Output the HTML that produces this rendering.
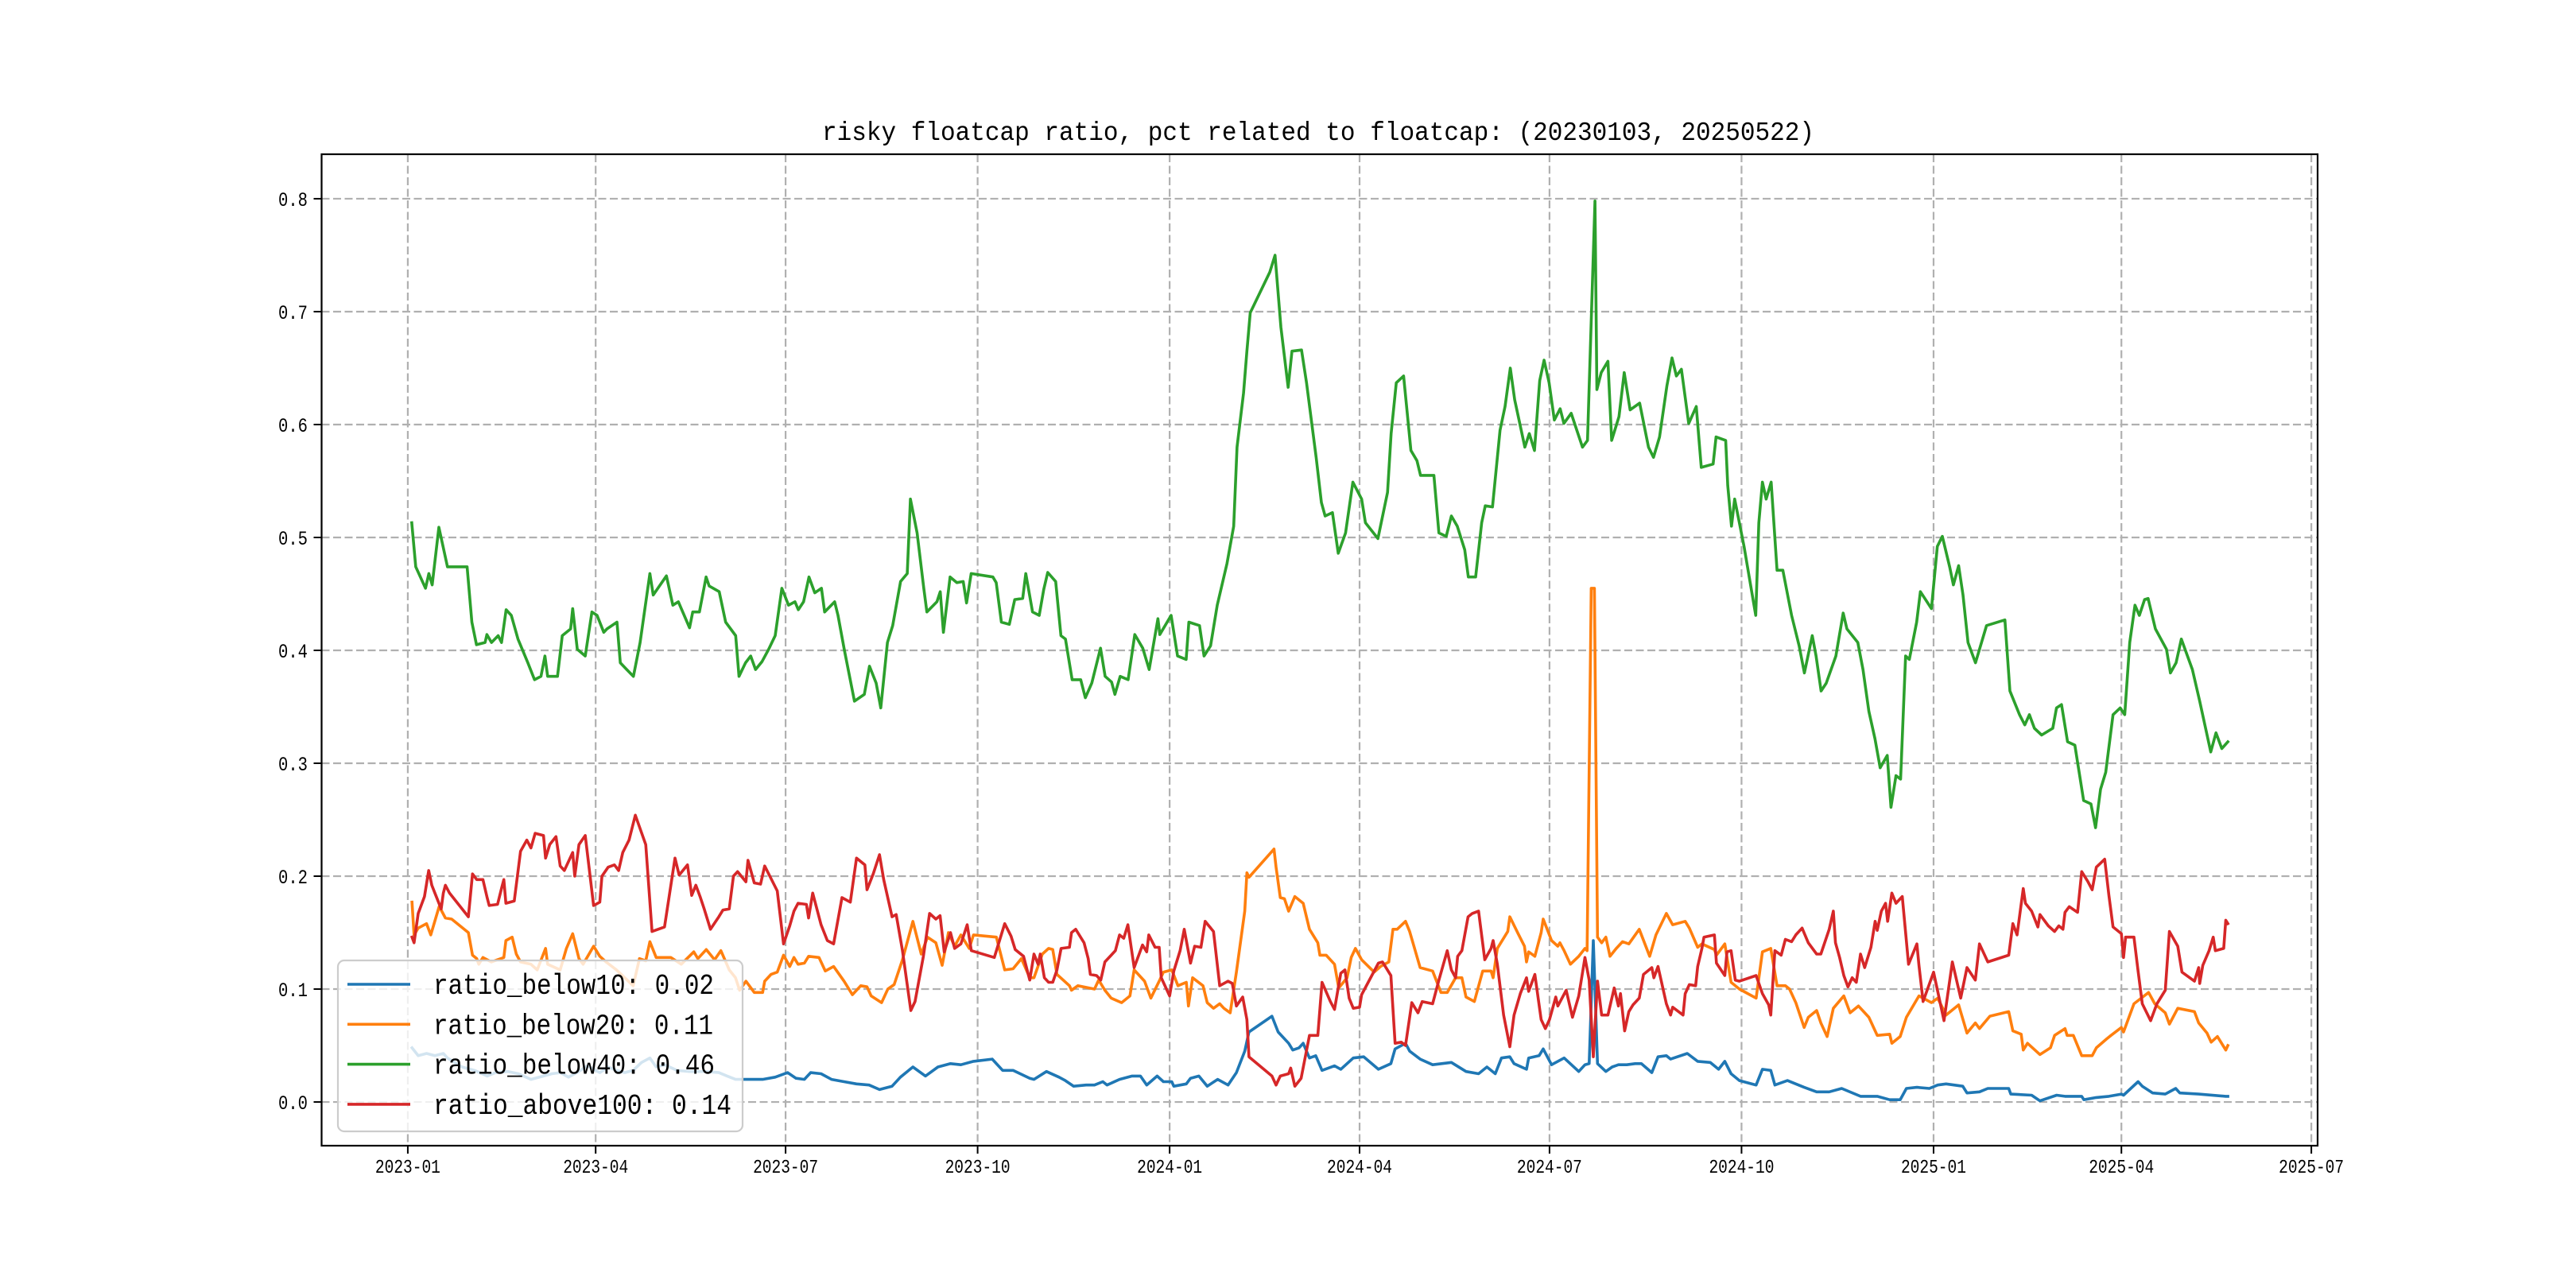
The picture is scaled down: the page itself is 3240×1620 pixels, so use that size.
<!DOCTYPE html>
<html><head><meta charset="utf-8"><style>
html,body{margin:0;padding:0;background:#fff;}
svg{display:block;}
text{font-family:"Liberation Mono","WenQuanYi Zen Hei",monospace;fill:#000;}
</style></head><body>
<svg id="chart" width="3240" height="1620" viewBox="0 0 3240 1620" xmlns="http://www.w3.org/2000/svg">
<rect x="0" y="0" width="3240" height="1620" fill="#fff"/>
<g id="grid"></g>
<g id="series"></g>
<rect x="404.5" y="194" width="2510.5" height="1247" fill="none" stroke="#000" stroke-width="2.2"/>
<g id="ticks"></g>
<text x="1658" y="176" font-size="33" text-anchor="middle" textLength="1248" lengthAdjust="spacingAndGlyphs">risky floatcap ratio, pct related to floatcap: (20230103, 20250522)</text>
<g id="legend"></g>
</svg>
<script>
// ---- data (day offset from 2023-01-01, value) ----
const xTickDays = [0,90,181,273,365,456,547,639,731,821,912];
const xTickLabels = ["2023-01","2023-04","2023-07","2023-10","2024-01","2024-04","2024-07","2024-10","2025-01","2025-04","2025-07"];
const yTickVals = [0,0.1,0.2,0.3,0.4,0.5,0.6,0.7,0.8];
const yTickLabels = ["0.0","0.1","0.2","0.3","0.4","0.5","0.6","0.7","0.8"];
const seriesNames = ["ratio_below10: 0.02","ratio_below20: 0.11","ratio_below40: 0.46","ratio_above100: 0.14"];

const blueDays = [2,5,9,13,17,19,26,32,38,42,48,53,59,65,69,73,77,81,86,92,96,100,104,108,112,116,119,123,129,135,143,149,153,157,162,170,176,182,186,190,193,198,203,209,215,221,226,230,232,236,242,248,254,260,265,271,280,285,290,298,300,306,312,315,319,325,329,333,335,341,347,351,354,359,362,366,367,373,375,379,383,388,393,397,401,403,414,417,422,424,427,429,432,435,438,444,447,453,458,465,471,473,478,480,485,491,500,507,513,517,521,524,528,530,536,537,542,544,548,554,561,564,566,568,570,574,577,580,584,588,591,596,599,603,605,613,618,624,628,631,634,638,646,649,653,655,661,669,675,681,687,696,704,710,715,718,723,729,733,737,745,747,753,757,767,768,778,782,790,794,802,803,809,815,821,822,829,831,836,842,847,849,858,871,872];
const blueVals = [.048,.041,.043,.041,.043,.039,.031,.028,.023,.026,.027,.025,.02,.023,.025,.026,.022,.026,.032,.026,.031,.028,.026,.028,.035,.039,.031,.033,.028,.027,.027,.026,.023,.02,.02,.02,.022,.026,.021,.02,.026,.025,.02,.018,.016,.015,.011,.013,.014,.022,.031,.023,.031,.034,.033,.036,.038,.028,.028,.021,.02,.027,.022,.019,.014,.015,.015,.018,.015,.02,.023,.023,.015,.023,.018,.018,.014,.016,.021,.023,.014,.02,.015,.026,.045,.062,.076,.062,.052,.046,.048,.052,.039,.041,.028,.032,.029,.039,.04,.029,.034,.047,.052,.045,.038,.033,.035,.027,.025,.031,.025,.039,.04,.034,.029,.039,.041,.047,.033,.039,.027,.033,.034,.143,.034,.027,.031,.033,.033,.034,.034,.026,.04,.041,.038,.043,.036,.035,.029,.036,.025,.019,.015,.029,.028,.015,.019,.013,.009,.009,.012,.005,.005,.002,.002,.012,.013,.012,.015,.016,.014,.008,.009,.012,.012,.007,.006,.001,.006,.005,.005,.002,.004,.005,.007,.006,.018,.014,.008,.007,.012,.008,.007,.005,.005];

const orangeDays = [2,3,5,9,11,15,16,18,21,29,31,33,34,36,40,46,47,50,52,54,59,62,66,67,73,76,79,82,84,89,92,95,100,108,111,114,116,119,123,126,131,137,139,143,147,150,154,157,159,162,166,170,171,174,177,180,183,185,187,190,192,197,200,204,209,213,217,220,222,227,230,233,237,242,246,249,253,256,259,262,265,269,271,282,286,290,294,298,300,304,307,309,311,317,318,321,329,331,334,337,342,346,348,353,356,360,362,366,369,373,374,376,381,383,386,389,391,394,397,401,402,403,415,416,418,420,422,425,429,432,436,437,440,444,446,450,452,454,457,463,466,470,472,474,478,480,485,491,495,498,502,505,507,511,515,519,520,522,527,528,532,535,536,537,540,543,544,548,551,552,554,557,561,564,565,567,568.5,570,572,574,576,579,582,585,590,595,598,603,606,612,614,618,620,626,627,631,634,638,646,649,653,656,660,662,665,669,671,675,677,680,683,688,691,695,700,704,710,711,715,718,724,730,733,737,743,747,751,753,758,767,769,773,774,776,782,787,789,794,795,798,802,807,809,814,816,821,822,827,834,837,842,844,848,856,858,862,864,867,871,872];
const orangeVals = [.177,.148,.154,.158,.148,.173,.17,.163,.162,.15,.13,.127,.122,.128,.124,.128,.143,.146,.131,.124,.122,.117,.136,.122,.117,.136,.149,.127,.122,.138,.129,.124,.117,.103,.127,.125,.142,.128,.128,.128,.122,.133,.127,.135,.126,.134,.117,.11,.099,.107,.097,.097,.107,.113,.115,.13,.12,.128,.122,.123,.129,.128,.116,.12,.107,.095,.103,.102,.094,.088,.1,.104,.126,.16,.131,.146,.141,.121,.15,.138,.148,.136,.148,.146,.117,.118,.127,.11,.11,.131,.136,.135,.113,.103,.099,.103,.1,.108,.099,.092,.088,.094,.117,.107,.092,.107,.115,.117,.103,.106,.085,.11,.103,.088,.083,.087,.083,.079,.115,.169,.203,.199,.224,.208,.181,.18,.169,.182,.176,.153,.141,.13,.13,.122,.101,.11,.128,.136,.126,.115,.12,.124,.153,.153,.16,.151,.119,.116,.097,.097,.11,.11,.093,.089,.116,.116,.11,.136,.151,.164,.149,.138,.124,.133,.129,.15,.162,.143,.138,.141,.134,.122,.129,.136,.134,.455,.455,.146,.141,.146,.129,.136,.142,.14,.153,.129,.148,.167,.157,.16,.154,.137,.14,.135,.13,.14,.106,.1,.092,.133,.136,.103,.103,.1,.088,.066,.075,.081,.07,.058,.083,.094,.079,.085,.075,.059,.06,.052,.058,.075,.094,.088,.092,.077,.086,.061,.07,.065,.076,.08,.063,.06,.046,.052,.042,.048,.059,.065,.059,.059,.041,.041,.048,.056,.059,.066,.062,.087,.097,.087,.079,.069,.083,.08,.07,.061,.053,.058,.046,.05];

const greenDays = [1.9,3.8,8.5,10.1,11.7,14.9,19,28.4,30.7,32.9,37,37.9,40.1,43.3,44.9,47.1,49.6,52.8,57.5,60.7,63.8,65.7,67,71.7,74,78,79,81.2,85,88.2,90.7,93.9,95.4,100.2,101.8,104.9,108.1,111.3,116,117.6,123.9,127,129.6,135,136.5,139.7,142.9,144.4,149.2,152.3,157.1,158.7,161.8,164.3,166.6,169.7,172.9,176,179.2,182.4,185.5,187.1,189.6,192.2,195,198.2,199.7,204.5,206.1,209.2,214,218.7,221.2,224.4,226.6,229.8,232.3,236.1,239.3,240.8,244,247.2,248.7,253.5,255.1,256.6,259.8,263,266.1,267.7,269.9,280.3,281.9,284.4,288.2,290.8,294.6,296.1,299.3,302.5,304.7,306.6,310.4,312.9,315.1,318.3,322.4,324.6,327.7,331.9,334.1,337.2,338.8,341.3,345.1,348.3,352.1,355.2,359.4,360.3,365.7,368.8,372.9,374.2,379.3,381.5,384.6,387.8,392.5,395.7,397.3,400.4,402,403.6,413,415.5,418.3,421.8,423.6,428.2,430.6,435.2,437.7,439.5,443,445.8,449.3,452.8,457,458.8,464.8,469.4,471.1,473.6,477.1,480.6,483.5,485.2,491.6,494,497.5,500,502.8,506.4,508.1,511.6,514.5,516.2,519.7,523.3,525.7,528.2,530.3,535.2,537.3,539.8,542.3,544.4,546.8,549.3,552.1,553.9,557.4,559.2,562.8,565.2,567.3,568.8,569.7,571.8,575,576.8,580.3,582.8,585.6,590.2,594.4,596.8,599.7,603.2,605.7,607.8,610.2,613.7,617.3,619.7,625.4,626.8,631.4,632.4,634.2,635.7,640.2,645.8,647.3,649,650.8,653.2,656,658.8,663,666.6,669.1,672.9,674.7,677.1,679.6,684.2,687.7,689.5,694.7,697.2,700,702.9,705.4,708.8,710.6,713,715.2,717.6,719.4,722.9,724.7,730,732.8,735.2,738.7,740.5,743,745.1,747.5,751.1,756.4,765.2,767.6,772.2,774.7,776.9,779.3,782.8,788.1,789.9,792.3,795.2,798.7,802.9,806.4,808.6,811,813.5,817,820.4,822.6,825,827.5,829.6,832.1,833.8,837.3,842.6,844.5,847.2,849.7,855,858.5,863.8,866.3,869.1,872];
const greenVals = [.513,.474,.455,.468,.458,.509,.474,.474,.425,.405,.407,.414,.407,.413,.407,.436,.431,.41,.389,.374,.377,.395,.377,.377,.413,.419,.437,.401,.395,.434,.431,.416,.419,.425,.389,.383,.377,.407,.468,.449,.466,.44,.443,.42,.434,.434,.465,.457,.452,.425,.413,.377,.389,.395,.383,.39,.401,.413,.455,.44,.443,.436,.443,.465,.451,.455,.434,.443,.431,.4,.355,.361,.386,.371,.349,.407,.422,.461,.468,.534,.504,.455,.434,.443,.452,.416,.465,.46,.461,.442,.468,.465,.46,.425,.423,.445,.446,.468,.434,.431,.454,.469,.461,.413,.41,.374,.374,.358,.371,.402,.377,.372,.361,.377,.374,.414,.402,.383,.428,.414,.431,.395,.392,.425,.422,.395,.404,.44,.477,.51,.58,.628,.665,.699,.735,.75,.686,.633,.665,.666,.637,.571,.531,.519,.522,.486,.504,.549,.534,.513,.499,.54,.592,.637,.643,.577,.568,.555,.555,.504,.501,.519,.51,.489,.465,.465,.513,.528,.527,.595,.616,.65,.622,.58,.592,.577,.639,.657,.637,.604,.614,.601,.61,.6,.58,.586,.71,.798,.631,.646,.656,.586,.607,.646,.613,.619,.58,.571,.589,.634,.659,.643,.649,.601,.616,.562,.565,.589,.586,.546,.51,.534,.492,.431,.513,.549,.534,.549,.471,.471,.431,.404,.38,.413,.395,.364,.371,.395,.433,.419,.407,.383,.346,.322,.296,.307,.261,.289,.286,.395,.392,.425,.452,.437,.492,.501,.474,.458,.475,.449,.407,.389,.422,.427,.364,.343,.334,.343,.331,.325,.331,.349,.352,.319,.316,.267,.264,.243,.277,.292,.343,.349,.343,.407,.44,.431,.445,.446,.419,.401,.38,.389,.41,.383,.355,.31,.327,.313,.319];

const redDays = [2,3,5,8,10,11.5,13,16,17,18,20,29,31,33,36,38,39,43,45,46,47,51,54,57,59,61,65,66,68,71,73,75,79,80,82,85,89,92,93,96,99,101,103,106,109,114,117,123,128,130,134,136,138,140,142,145,149,151,154,156,158,162,163,166,169,171,177,180,183,185,187,191,192,194,198,201,204,208,212,215,219,220,223,226,228,232,234,237,241,243,247,250,253,255,257,260,262,265,268,270,281,286,289,291,295,298,300,302,303,305,307,309,311,313,317,318,320,324,326,327,330,332,334,339,341,343,345,348,352,354,355,358,360,361,365,367,370,372,375,377,380,382,386,389,393,395,397,400,402,403,414,416,418,422,423,425,428,432,436,438,442,444,447,449,451,453,456,457,465,467,471,473,476,478,481,484,486,491,494,498,500,502,503,505,508,510,513,516,519,520,522,525,528,530,533,536,537,540,543,545,547,550,551,555,558,561,564,566,568,570,572,575,578,580,581,583,585,587,590,592,596,597,599,603,605,606,611,612,614,617,618,620,621,626,627,631,632,634,636,638,646,649,652,653,655,658,660,663,665,668,671,675,677,681,683,684,686,688,690,692,694,696,698,701,703,704,706,708,709,711,713,716,719,723,724,726,731,736,740,744,747,751,753,757,767,769,771,774,775,778,781,782,786,789,791,793,794,796,800,802,805,807,809,813,815,817,821,822,823,827,829,831,835,838,842,844,848,850,856,858,858.5,860,863,865,866,870,871,872];
const redVals = [.146,.141,.167,.182,.205,.192,.185,.171,.185,.192,.185,.164,.202,.197,.197,.181,.174,.175,.19,.197,.176,.178,.222,.232,.225,.238,.236,.216,.228,.235,.209,.205,.221,.2,.228,.236,.174,.177,.2,.208,.21,.205,.221,.232,.254,.228,.151,.155,.216,.201,.21,.183,.192,.182,.171,.153,.164,.17,.171,.2,.204,.195,.214,.194,.193,.209,.187,.14,.156,.169,.176,.175,.163,.185,.157,.143,.14,.181,.177,.216,.21,.188,.202,.219,.197,.164,.166,.134,.081,.089,.129,.167,.162,.165,.133,.15,.136,.14,.157,.134,.128,.158,.147,.135,.129,.108,.131,.122,.131,.11,.106,.106,.117,.136,.137,.15,.153,.141,.127,.113,.112,.108,.124,.134,.148,.145,.157,.119,.139,.133,.148,.137,.137,.11,.094,.116,.134,.153,.123,.138,.137,.16,.151,.103,.107,.105,.085,.093,.073,.04,.023,.015,.023,.025,.03,.014,.021,.059,.059,.106,.089,.082,.114,.117,.092,.083,.084,.095,.123,.124,.112,.052,.053,.05,.088,.079,.089,.087,.108,.134,.117,.11,.129,.134,.164,.167,.169,.126,.136,.143,.122,.077,.049,.077,.096,.11,.098,.113,.073,.065,.073,.093,.085,.099,.075,.094,.128,.108,.04,.107,.077,.077,.101,.085,.096,.063,.08,.086,.092,.113,.119,.11,.12,.087,.077,.084,.077,.096,.104,.103,.12,.136,.146,.148,.123,.112,.133,.134,.108,.107,.112,.096,.086,.077,.134,.13,.144,.142,.148,.154,.141,.131,.131,.153,.169,.141,.128,.112,.102,.11,.106,.131,.119,.137,.16,.152,.169,.176,.16,.185,.176,.182,.122,.14,.121,.089,.115,.072,.124,.092,.119,.108,.14,.124,.13,.158,.148,.189,.176,.169,.155,.166,.156,.151,.156,.153,.168,.173,.168,.204,.195,.188,.208,.215,.183,.155,.149,.128,.146,.146,.116,.087,.072,.087,.099,.151,.138,.115,.107,.119,.105,.121,.134,.146,.134,.136,.161,.158];

// ---- scales ----
const X0 = 404.5, X1 = 2915, Y0 = 1441, Y1 = 194;
const dMin = -41.3, dMax = 915, vMin = -0.0387, vMax = 0.8394;
function xScale(d){ return X0 + (d - dMin) / (dMax - dMin) * (X1 - X0); }
function yScale(v){ return Y0 - (v - vMin) / (vMax - vMin) * (Y0 - Y1); }
const NS = "http://www.w3.org/2000/svg";
function mk(tag, attrs, parent){
  const e = document.createElementNS(NS, tag);
  for (const k in attrs) e.setAttribute(k, attrs[k]);
  parent.appendChild(e);
  return e;
}
const grid = document.getElementById('grid');
const ticks = document.getElementById('ticks');
const series = document.getElementById('series');
const legend = document.getElementById('legend');

xTickDays.forEach((d, i) => {
  const x = xScale(d);
  const gl = mk('line', {x1:x, x2:x, y1:Y1, y2:Y0, stroke:'#b0b0b0', 'stroke-width':2.2, 'stroke-dasharray':'10,4.5'}, grid);
  
  
  const tk = mk('line', {x1:x, x2:x, y1:Y0, y2:Y0+10, stroke:'#000', 'stroke-width':2}, ticks);
  
  
  const t = mk('text', {x:x, y:1475, 'font-size':24, 'text-anchor':'middle', textLength:82, lengthAdjust:'spacingAndGlyphs'}, ticks);
  t.textContent = xTickLabels[i];
  
  
});
yTickVals.forEach((v, i) => {
  const y = yScale(v);
  const gl = mk('line', {x1:X0, x2:X1, y1:y, y2:y, stroke:'#b0b0b0', 'stroke-width':2.2, 'stroke-dasharray':'10,4.5'}, grid);
  
  
  const tk = mk('line', {x1:X0-10, x2:X0, y1:y, y2:y, stroke:'#000', 'stroke-width':2}, ticks);
  
  
  const t = mk('text', {x:387, y:y+9, 'font-size':25, 'text-anchor':'end', textLength:37, lengthAdjust:'spacingAndGlyphs'}, ticks);
  t.textContent = yTickLabels[i];
  
  
});

const colors = ['#1f77b4','#ff7f0e','#2ca02c','#d62728'];
const allDays = [blueDays, orangeDays, greenDays, redDays];
const allVals = [blueVals, orangeVals, greenVals, redVals];
const lineNames = ['line-ratio-below10','line-ratio-below20','line-ratio-below40','line-ratio-above100'];
allDays.forEach((days, s) => {
  const vals = allVals[s];
  let dstr = '';
  for (let i = 0; i < days.length; i++) {
    dstr += (i ? 'L' : 'M') + xScale(days[i]).toFixed(1) + ',' + yScale(vals[i]).toFixed(1);
  }
  const p = mk('path', {d:dstr, fill:'none', stroke:colors[s], 'stroke-width':3.6, 'stroke-linejoin':'round', 'stroke-linecap':'square'}, series);
  
  
});

// legend
const lb = mk('rect', {x:425, y:1208, width:509, height:215, rx:8, ry:8, fill:'#fff', 'fill-opacity':0.8, stroke:'#cccccc', 'stroke-width':2.2}, legend);


const textLens = [353, 352, 354, 375];
seriesNames.forEach((nm, i) => {
  const cy = 1238 + i * 50.3;
  const h = mk('line', {x1:437, x2:516, y1:cy, y2:cy, stroke:colors[i], 'stroke-width':3.6}, legend);
  
  
  const t = mk('text', {x:545, y:cy+12, 'font-size':36, textLength:textLens[i], lengthAdjust:'spacingAndGlyphs'}, legend);
  t.textContent = nm;
  
  
});
</script>
</body></html>
